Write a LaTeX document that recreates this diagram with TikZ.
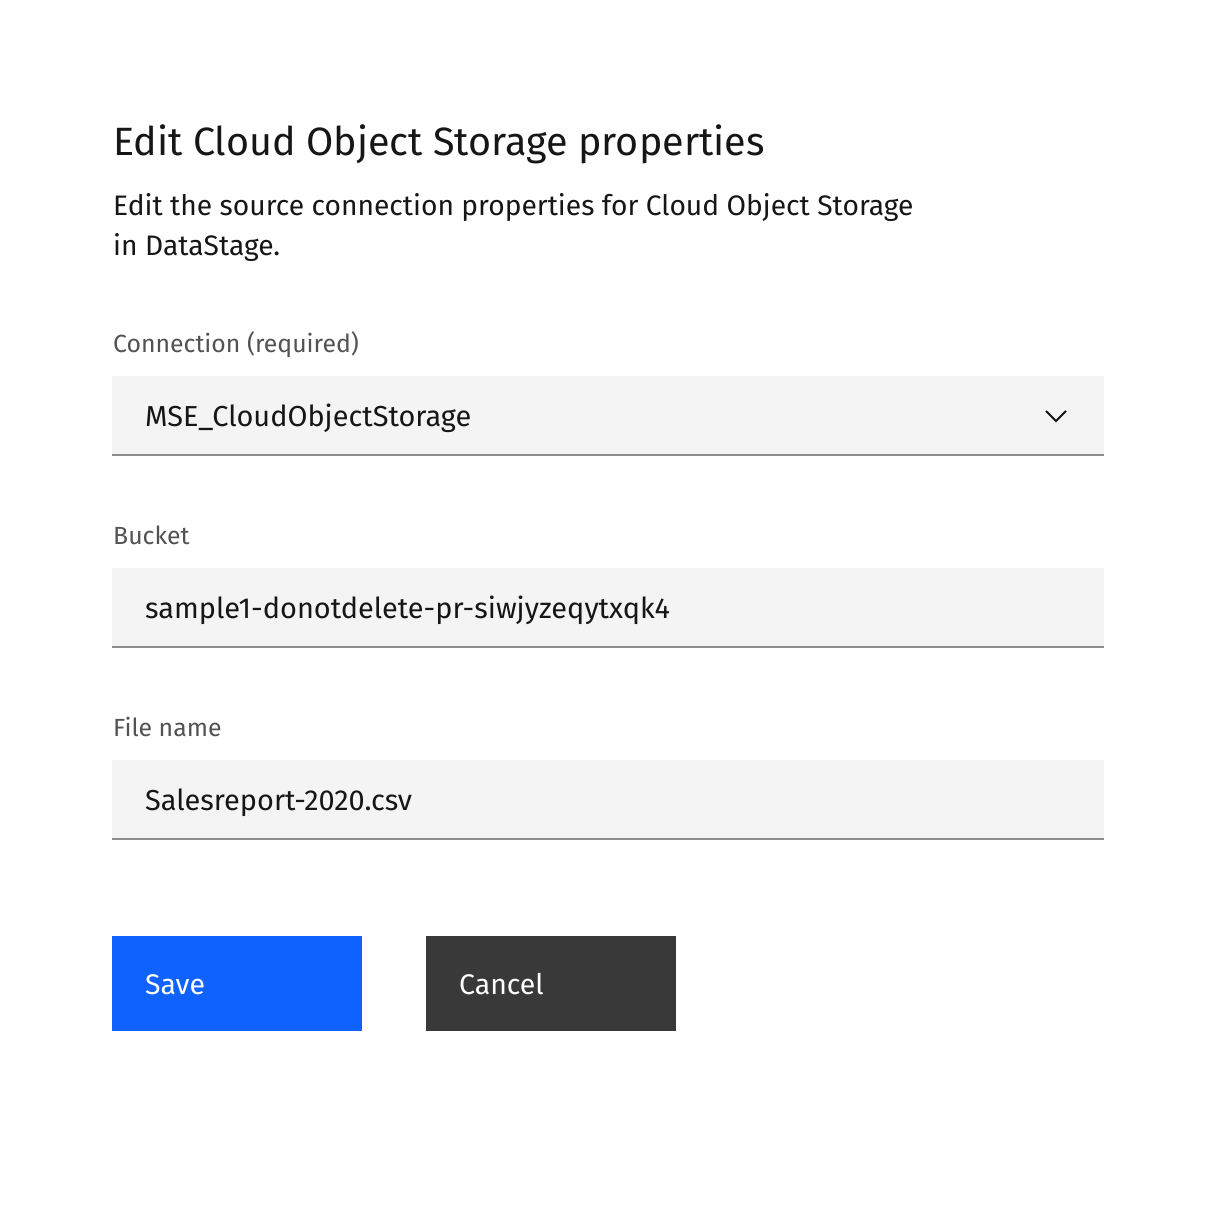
\documentclass[tikz,border=0pt]{standalone}
\usepackage{fontspec}
\setmainfont{Fira Sans}
\usetikzlibrary{positioning}

\definecolor{textmain}{HTML}{161616}
\definecolor{textlabel}{HTML}{525252}
\definecolor{fieldbg}{HTML}{F4F4F4}
\definecolor{fieldline}{HTML}{8D8D8D}
\definecolor{primblue}{HTML}{0F62FE}
\definecolor{secgray}{HTML}{393939}

\begin{document}
\begin{tikzpicture}[x=1pt,y=-1pt,
    field/.style={fill=fieldbg,minimum width=992pt,minimum height=79pt,anchor=north west,inner sep=0pt},
    uline/.style={fieldline,line width=2pt},
    label/.style={textlabel,anchor=base west,inner sep=0pt,font=\fontsize{24.8}{30}\selectfont},
    value/.style={textmain,anchor=base west,inner sep=0pt,font=\fontsize{28.9}{34}\selectfont},
    button/.style={minimum width=250pt,minimum height=95pt,anchor=north west,inner sep=0pt},
    btext/.style={white,anchor=base west,inner sep=0pt,font=\fontsize{28.4}{34}\selectfont}]

    \useasboundingbox[fill=white] (0,0) rectangle (1216,1216);

    % heading
    \node[textmain,anchor=base west,inner sep=0pt,font=\fontsize{39.5}{46}\selectfont] (title) at (113,155) {Edit Cloud Object Storage properties};
    \node[textmain,anchor=base west,inner sep=0pt,font=\fontsize{28.2}{40}\selectfont] (desc1) at (113,215) {Edit the source connection properties for Cloud Object Storage};
    \node[textmain,anchor=base west,inner sep=0pt,font=\fontsize{28.2}{40}\selectfont] (desc2) at (113,255) {in DataStage.};

    % connection
    \node[label] (connlab) at (113,352) {Connection (required)};
    \node[field] (conn) at (112,376) {};
    \draw[uline] (conn.south west) -- (conn.south east);
    \node[value] (connval) at (145,426) {MSE\_CloudObjectStorage};
    \coordinate (chev) at (1056,421);
    \draw[textmain,line width=2pt] ([shift={(-10,-10)}]chev) -- (chev) -- ([shift={(10,-10)}]chev);

    % bucket
    \node[label] (bucklab) at (113,544) {Bucket};
    \node[field] (buck) at (112,568) {};
    \draw[uline] (buck.south west) -- (buck.south east);
    \node[value] (buckval) at (145,618) {sample1-donotdelete-pr-siwjyzeqytxqk4};

    % file name
    \node[label] (filelab) at (113,736) {File name};
    \node[field] (file) at (112,760) {};
    \draw[uline] (file.south west) -- (file.south east);
    \node[value] (fileval) at (145,810) {Salesreport-2020.csv};

    % buttons
    \node[button,fill=primblue] (save) at (112,936) {};
    \node[btext] at (145,994) {Save};
    \node[button,fill=secgray] (cancel) at (426,936) {};
    \node[btext] at (459,994) {Cancel};

\end{tikzpicture}
\end{document}
